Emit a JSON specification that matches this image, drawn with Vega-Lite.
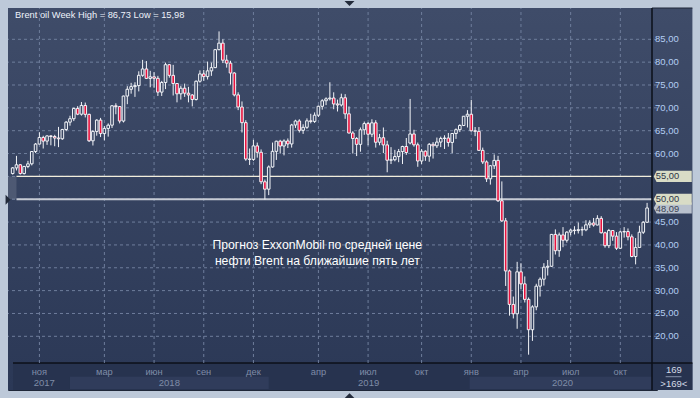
{
  "$schema": "https://vega.github.io/schema/vega-lite/v6.json",
  "width": 649,
  "height": 382,
  "autosize": {"type": "none"},
  "padding": {"left": 8, "top": 8, "right": 43, "bottom": 8},
  "background": "#bdc9d9",
  "config": {"view": {"stroke": "#1f2738", "strokeWidth": 1}, "font": "Liberation Sans"},
  "datasets": {
    "candles": [
      {"d":"2017-09-18","o":55.62,"h":57.05,"l":55.40,"c":56.86},
      {"d":"2017-09-25","o":56.86,"h":59.49,"l":56.30,"c":57.54},
      {"d":"2017-10-02","o":57.54,"h":57.70,"l":55.40,"c":55.62},
      {"d":"2017-10-09","o":55.62,"h":57.30,"l":55.40,"c":57.17},
      {"d":"2017-10-16","o":57.17,"h":58.40,"l":56.80,"c":57.75},
      {"d":"2017-10-23","o":57.75,"h":60.53,"l":57.40,"c":60.44},
      {"d":"2017-10-30","o":60.44,"h":62.30,"l":60.10,"c":62.07},
      {"d":"2017-11-06","o":62.07,"h":64.65,"l":62.00,"c":63.52},
      {"d":"2017-11-13","o":63.52,"h":63.90,"l":61.10,"c":62.72},
      {"d":"2017-11-20","o":62.72,"h":64.00,"l":61.90,"c":63.86},
      {"d":"2017-11-27","o":63.86,"h":64.00,"l":61.80,"c":63.73},
      {"d":"2017-12-04","o":63.73,"h":64.10,"l":61.60,"c":63.40},
      {"d":"2017-12-11","o":63.40,"h":65.83,"l":61.40,"c":63.23},
      {"d":"2017-12-18","o":63.23,"h":65.40,"l":63.00,"c":65.25},
      {"d":"2017-12-25","o":65.25,"h":67.10,"l":64.90,"c":66.87},
      {"d":"2018-01-01","o":66.87,"h":68.27,"l":66.10,"c":67.62},
      {"d":"2018-01-08","o":67.62,"h":70.05,"l":67.10,"c":69.87},
      {"d":"2018-01-15","o":69.87,"h":70.37,"l":68.40,"c":68.61},
      {"d":"2018-01-22","o":68.61,"h":71.28,"l":68.30,"c":70.52},
      {"d":"2018-01-29","o":70.52,"h":71.16,"l":67.90,"c":68.58},
      {"d":"2018-02-05","o":68.58,"h":68.70,"l":62.53,"c":62.79},
      {"d":"2018-02-12","o":62.79,"h":65.10,"l":61.76,"c":64.84},
      {"d":"2018-02-19","o":64.84,"h":67.50,"l":63.90,"c":67.31},
      {"d":"2018-02-26","o":67.31,"h":67.80,"l":63.60,"c":64.37},
      {"d":"2018-03-05","o":64.37,"h":66.00,"l":62.90,"c":65.49},
      {"d":"2018-03-12","o":65.49,"h":66.60,"l":63.70,"c":66.21},
      {"d":"2018-03-19","o":66.21,"h":70.58,"l":65.60,"c":70.45},
      {"d":"2018-03-26","o":70.45,"h":71.00,"l":68.60,"c":70.27},
      {"d":"2018-04-02","o":70.27,"h":70.40,"l":66.60,"c":67.11},
      {"d":"2018-04-09","o":67.11,"h":72.67,"l":66.80,"c":72.58},
      {"d":"2018-04-16","o":72.58,"h":74.75,"l":70.80,"c":74.06},
      {"d":"2018-04-23","o":74.06,"h":75.47,"l":73.10,"c":74.64},
      {"d":"2018-04-30","o":74.64,"h":75.60,"l":72.40,"c":74.87},
      {"d":"2018-05-07","o":74.87,"h":78.00,"l":73.60,"c":77.12},
      {"d":"2018-05-14","o":77.12,"h":80.50,"l":76.80,"c":78.51},
      {"d":"2018-05-21","o":78.51,"h":80.24,"l":76.30,"c":76.44},
      {"d":"2018-05-28","o":76.44,"h":78.10,"l":74.50,"c":76.79},
      {"d":"2018-06-04","o":76.79,"h":77.80,"l":74.40,"c":76.46},
      {"d":"2018-06-11","o":76.46,"h":77.00,"l":72.60,"c":73.44},
      {"d":"2018-06-18","o":73.44,"h":75.90,"l":72.60,"c":75.55},
      {"d":"2018-06-25","o":75.55,"h":79.90,"l":74.10,"c":79.44},
      {"d":"2018-07-02","o":79.44,"h":79.60,"l":76.60,"c":77.11},
      {"d":"2018-07-09","o":77.11,"h":79.40,"l":72.70,"c":75.33},
      {"d":"2018-07-16","o":75.33,"h":75.40,"l":71.20,"c":73.07},
      {"d":"2018-07-23","o":73.07,"h":74.80,"l":71.80,"c":74.29},
      {"d":"2018-07-30","o":74.29,"h":75.30,"l":72.40,"c":73.21},
      {"d":"2018-08-06","o":73.21,"h":74.60,"l":71.20,"c":72.81},
      {"d":"2018-08-13","o":72.81,"h":73.00,"l":70.32,"c":71.83},
      {"d":"2018-08-20","o":71.83,"h":76.00,"l":71.60,"c":75.82},
      {"d":"2018-08-27","o":75.82,"h":78.20,"l":75.50,"c":77.42},
      {"d":"2018-09-03","o":77.42,"h":78.30,"l":75.90,"c":76.83},
      {"d":"2018-09-10","o":76.83,"h":80.13,"l":76.20,"c":78.09},
      {"d":"2018-09-17","o":78.09,"h":79.90,"l":77.00,"c":78.80},
      {"d":"2018-09-24","o":78.80,"h":82.87,"l":78.70,"c":82.73},
      {"d":"2018-10-01","o":82.73,"h":86.73,"l":82.60,"c":84.16},
      {"d":"2018-10-08","o":84.16,"h":85.00,"l":79.80,"c":80.43},
      {"d":"2018-10-15","o":80.43,"h":81.60,"l":78.80,"c":79.78},
      {"d":"2018-10-22","o":79.78,"h":80.30,"l":75.10,"c":77.62},
      {"d":"2018-10-29","o":77.62,"h":77.80,"l":72.50,"c":72.83},
      {"d":"2018-11-05","o":72.83,"h":73.40,"l":69.50,"c":70.18},
      {"d":"2018-11-12","o":70.18,"h":71.40,"l":64.60,"c":66.76},
      {"d":"2018-11-19","o":66.76,"h":67.30,"l":58.41,"c":58.80},
      {"d":"2018-11-26","o":58.80,"h":61.10,"l":57.50,"c":58.71},
      {"d":"2018-12-03","o":58.71,"h":63.00,"l":58.40,"c":61.67},
      {"d":"2018-12-10","o":61.67,"h":62.40,"l":59.10,"c":60.28},
      {"d":"2018-12-17","o":60.28,"h":60.90,"l":53.30,"c":53.82},
      {"d":"2018-12-24","o":53.82,"h":54.30,"l":49.93,"c":52.20},
      {"d":"2018-12-31","o":52.20,"h":57.40,"l":50.90,"c":57.06},
      {"d":"2019-01-07","o":57.06,"h":62.40,"l":56.90,"c":60.48},
      {"d":"2019-01-14","o":60.48,"h":62.80,"l":58.60,"c":62.70},
      {"d":"2019-01-21","o":62.70,"h":63.00,"l":60.00,"c":61.64},
      {"d":"2019-01-28","o":61.64,"h":63.10,"l":59.60,"c":62.75},
      {"d":"2019-02-04","o":62.75,"h":63.30,"l":61.20,"c":62.10},
      {"d":"2019-02-11","o":62.10,"h":66.50,"l":61.30,"c":66.25},
      {"d":"2019-02-18","o":66.25,"h":67.40,"l":65.60,"c":67.12},
      {"d":"2019-02-25","o":67.12,"h":67.50,"l":64.60,"c":65.07},
      {"d":"2019-03-04","o":65.07,"h":66.40,"l":64.30,"c":65.74},
      {"d":"2019-03-11","o":65.74,"h":67.70,"l":65.40,"c":67.16},
      {"d":"2019-03-18","o":67.16,"h":68.70,"l":66.60,"c":67.03},
      {"d":"2019-03-25","o":67.03,"h":69.00,"l":66.70,"c":68.39},
      {"d":"2019-04-01","o":68.39,"h":70.50,"l":68.00,"c":70.34},
      {"d":"2019-04-08","o":70.34,"h":71.90,"l":69.60,"c":71.55},
      {"d":"2019-04-15","o":71.55,"h":72.30,"l":70.60,"c":71.97},
      {"d":"2019-04-22","o":71.97,"h":75.60,"l":71.60,"c":72.15},
      {"d":"2019-04-29","o":72.15,"h":73.40,"l":69.70,"c":70.85},
      {"d":"2019-05-06","o":70.85,"h":71.80,"l":69.20,"c":70.62},
      {"d":"2019-05-13","o":70.62,"h":73.10,"l":70.30,"c":72.21},
      {"d":"2019-05-20","o":72.21,"h":73.00,"l":67.60,"c":68.69},
      {"d":"2019-05-27","o":68.69,"h":70.30,"l":64.40,"c":64.49},
      {"d":"2019-06-03","o":64.49,"h":64.90,"l":60.00,"c":63.29},
      {"d":"2019-06-10","o":63.29,"h":63.60,"l":59.45,"c":62.01},
      {"d":"2019-06-17","o":62.01,"h":65.70,"l":60.40,"c":65.20},
      {"d":"2019-06-24","o":65.20,"h":67.00,"l":64.10,"c":66.55},
      {"d":"2019-07-01","o":66.55,"h":66.90,"l":61.80,"c":64.23},
      {"d":"2019-07-08","o":64.23,"h":67.50,"l":63.60,"c":66.72},
      {"d":"2019-07-15","o":66.72,"h":67.30,"l":61.30,"c":62.47},
      {"d":"2019-07-22","o":62.47,"h":64.30,"l":61.80,"c":63.46},
      {"d":"2019-07-29","o":63.46,"h":65.70,"l":60.10,"c":61.89},
      {"d":"2019-08-05","o":61.89,"h":62.80,"l":55.90,"c":58.53},
      {"d":"2019-08-12","o":58.53,"h":61.40,"l":57.70,"c":58.64},
      {"d":"2019-08-19","o":58.64,"h":60.80,"l":58.30,"c":59.34},
      {"d":"2019-08-26","o":59.34,"h":61.00,"l":58.10,"c":60.43},
      {"d":"2019-09-02","o":60.43,"h":61.70,"l":57.70,"c":61.54},
      {"d":"2019-09-09","o":61.54,"h":63.40,"l":59.70,"c":60.22},
      {"d":"2019-09-16","o":62.30,"h":71.95,"l":62.00,"c":64.28},
      {"d":"2019-09-23","o":64.28,"h":65.20,"l":61.50,"c":61.91},
      {"d":"2019-09-30","o":61.91,"h":62.40,"l":57.10,"c":58.37},
      {"d":"2019-10-07","o":58.37,"h":61.00,"l":57.70,"c":60.51},
      {"d":"2019-10-14","o":60.51,"h":60.70,"l":58.40,"c":59.42},
      {"d":"2019-10-21","o":59.42,"h":62.30,"l":58.20,"c":62.02},
      {"d":"2019-10-28","o":62.02,"h":62.50,"l":58.90,"c":61.69},
      {"d":"2019-11-04","o":61.69,"h":63.50,"l":61.20,"c":62.51},
      {"d":"2019-11-11","o":62.51,"h":63.70,"l":61.40,"c":63.30},
      {"d":"2019-11-18","o":63.30,"h":64.00,"l":61.00,"c":63.39},
      {"d":"2019-11-25","o":63.39,"h":64.50,"l":61.50,"c":62.43},
      {"d":"2019-12-02","o":62.43,"h":64.50,"l":60.10,"c":64.39},
      {"d":"2019-12-09","o":64.39,"h":65.50,"l":63.20,"c":65.22},
      {"d":"2019-12-16","o":65.22,"h":66.40,"l":64.70,"c":66.14},
      {"d":"2019-12-23","o":66.14,"h":68.20,"l":66.00,"c":68.16},
      {"d":"2019-12-30","o":68.16,"h":69.50,"l":65.70,"c":68.60},
      {"d":"2020-01-06","o":68.60,"h":71.75,"l":64.80,"c":64.98},
      {"d":"2020-01-13","o":64.98,"h":65.80,"l":63.80,"c":64.85},
      {"d":"2020-01-20","o":64.85,"h":65.80,"l":60.60,"c":60.69},
      {"d":"2020-01-27","o":60.69,"h":61.30,"l":57.70,"c":58.16},
      {"d":"2020-02-03","o":58.16,"h":58.50,"l":53.78,"c":54.47},
      {"d":"2020-02-10","o":54.47,"h":57.50,"l":53.20,"c":57.32},
      {"d":"2020-02-17","o":57.32,"h":59.80,"l":56.60,"c":58.50},
      {"d":"2020-02-24","o":58.50,"h":59.50,"l":49.40,"c":49.67},
      {"d":"2020-03-02","o":49.67,"h":53.90,"l":45.00,"c":45.27},
      {"d":"2020-03-09","o":45.27,"h":45.90,"l":31.02,"c":34.30},
      {"d":"2020-03-16","o":34.30,"h":34.60,"l":24.52,"c":26.98},
      {"d":"2020-03-23","o":26.98,"h":28.70,"l":23.90,"c":24.93},
      {"d":"2020-03-30","o":24.93,"h":36.30,"l":21.65,"c":34.11},
      {"d":"2020-04-06","o":34.11,"h":36.00,"l":30.40,"c":31.48},
      {"d":"2020-04-13","o":31.48,"h":33.10,"l":27.40,"c":28.08},
      {"d":"2020-04-20","o":28.08,"h":28.50,"l":15.98,"c":21.44},
      {"d":"2020-04-27","o":21.44,"h":26.80,"l":19.00,"c":26.44},
      {"d":"2020-05-04","o":26.44,"h":31.50,"l":25.70,"c":30.97},
      {"d":"2020-05-11","o":30.97,"h":32.90,"l":28.70,"c":32.50},
      {"d":"2020-05-18","o":32.50,"h":36.00,"l":31.10,"c":35.13},
      {"d":"2020-05-25","o":35.13,"h":36.70,"l":33.30,"c":35.33},
      {"d":"2020-06-01","o":35.33,"h":42.40,"l":35.20,"c":42.30},
      {"d":"2020-06-08","o":42.30,"h":43.40,"l":37.90,"c":38.73},
      {"d":"2020-06-15","o":38.73,"h":42.70,"l":37.40,"c":42.19},
      {"d":"2020-06-22","o":42.19,"h":43.90,"l":39.50,"c":41.02},
      {"d":"2020-06-29","o":41.02,"h":43.00,"l":40.50,"c":42.80},
      {"d":"2020-07-06","o":42.80,"h":43.50,"l":42.10,"c":43.24},
      {"d":"2020-07-13","o":43.24,"h":44.10,"l":42.30,"c":43.14},
      {"d":"2020-07-20","o":43.14,"h":44.90,"l":42.50,"c":43.34},
      {"d":"2020-07-27","o":43.34,"h":44.00,"l":42.00,"c":43.30},
      {"d":"2020-08-03","o":43.30,"h":45.40,"l":43.00,"c":44.40},
      {"d":"2020-08-10","o":44.40,"h":45.40,"l":43.70,"c":44.80},
      {"d":"2020-08-17","o":44.80,"h":45.90,"l":44.00,"c":44.35},
      {"d":"2020-08-24","o":44.35,"h":46.50,"l":44.30,"c":45.81},
      {"d":"2020-08-31","o":45.81,"h":46.30,"l":42.50,"c":42.66},
      {"d":"2020-09-07","o":42.66,"h":42.90,"l":39.40,"c":39.83},
      {"d":"2020-09-14","o":39.83,"h":43.50,"l":39.30,"c":43.15},
      {"d":"2020-09-21","o":43.15,"h":43.20,"l":40.90,"c":41.92},
      {"d":"2020-09-28","o":41.92,"h":42.80,"l":38.90,"c":39.27},
      {"d":"2020-10-05","o":39.27,"h":43.10,"l":39.10,"c":42.85},
      {"d":"2020-10-12","o":42.85,"h":43.90,"l":41.60,"c":42.93},
      {"d":"2020-10-19","o":42.93,"h":43.60,"l":41.00,"c":41.77},
      {"d":"2020-10-26","o":41.77,"h":42.30,"l":37.30,"c":37.46},
      {"d":"2020-11-02","o":37.46,"h":41.50,"l":35.74,"c":39.45},
      {"d":"2020-11-09","o":39.45,"h":44.20,"l":39.40,"c":42.78},
      {"d":"2020-11-16","o":42.78,"h":45.20,"l":42.40,"c":44.96},
      {"d":"2020-11-23","o":44.96,"h":49.20,"l":44.80,"c":48.09}
    ],
    "months": [
      {"d":"2017-11-06","m":"ноя"},{"d":"2018-03-05","m":"мар"},{"d":"2018-06-04","m":"июн"},
      {"d":"2018-09-03","m":"сен"},{"d":"2018-12-03","m":"дек"},{"d":"2019-04-01","m":"апр"},
      {"d":"2019-07-01","m":"июл"},{"d":"2019-10-07","m":"окт"},{"d":"2020-01-06","m":"янв"},
      {"d":"2020-04-06","m":"апр"},{"d":"2020-07-06","m":"июл"},{"d":"2020-10-05","m":"окт"}
    ],
    "years": [
      {"y":"2017","s":"2017-09-18","e":"2018-01-01","m":"2017-11-15"},
      {"y":"2018","s":"2018-01-01","e":"2018-12-31","m":"2018-07-02"},
      {"y":"2019","s":"2018-12-31","e":"2020-01-03","m":"2019-07-02"},
      {"y":"2020","s":"2020-01-03","e":"2020-12-02","m":"2020-06-21"}
    ],
    "grid": [
      {"v":20,"t":"20,00"},{"v":25,"t":"25,00"},{"v":30,"t":"30,00"},{"v":35,"t":"35,00"},
      {"v":40,"t":"40,00"},{"v":45,"t":"45,00"},{"v":50,"t":"50,00"},{"v":55,"t":"55,00"},
      {"v":60,"t":"60,00"},{"v":65,"t":"65,00"},{"v":70,"t":"70,00"},{"v":75,"t":"75,00"},
      {"v":80,"t":"80,00"},{"v":85,"t":"85,00"}
    ],
    "tags": [
      {"p":55,"t":"55,00","k":"lvl"},
      {"p":50,"t":"50,00","k":"lvl"},
      {"p":48.09,"t":"48,09","k":"last"}
    ]
  },
  "layer": [
    {
      "data": {"values": [{}]},
      "mark": {"type": "rect", "color": {"gradient": "linear", "x1": 0, "y1": 0, "x2": 0, "y2": 1, "stops": [{"offset": 0, "color": "#3f4c69"}, {"offset": 1, "color": "#2b3856"}]}},
      "encoding": {}
    },
    {
      "data": {"values": [{}]},
      "mark": {"type": "rect", "color": {"gradient": "linear", "x1": 0, "y1": 0, "x2": 0, "y2": 1, "stops": [{"offset": 0, "color": "#3f4c69"}, {"offset": 1, "color": "#2b3856"}]}},
      "encoding": {
        "x": {"datum": {"year": 2020, "month": 12, "date": 2, "utc": true}, "type": "temporal", "axis": null},
        "x2": {"datum": {"year": 2021, "month": 2, "date": 14, "utc": true}}
      }
    },
    {
      "data": {"values": [{}]},
      "mark": {"type": "rect", "color": "#27334f"},
      "encoding": {
        "x": {"datum": {"year": 2017, "month": 9, "date": 18, "hours": 15, "utc": true}, "type": "temporal", "axis": null},
        "x2": {"datum": {"year": 2021, "month": 2, "date": 14, "utc": true}},
        "y": {"datum": 14.16, "type": "quantitative", "axis": null},
        "y2": {"datum": 8.25}
      }
    },
    {
      "data": {"name": "years"},
      "transform": [{"filter": "datum.y == '2018' || datum.y == '2020'"}],
      "mark": {"type": "rect", "color": "#303c5b"},
      "encoding": {
        "x": {"field": "s", "type": "temporal", "axis": null},
        "x2": {"field": "e"},
        "y": {"datum": 11.16, "type": "quantitative", "axis": null},
        "y2": {"datum": 8.47}
      }
    },
    {
      "data": {"values": [{}]},
      "mark": {"type": "rule", "color": "#0c1018", "strokeWidth": 1.5},
      "encoding": {
        "x": {"datum": {"year": 2017, "month": 9, "date": 18, "hours": 15, "utc": true}, "type": "temporal", "axis": null},
        "x2": {"datum": {"year": 2021, "month": 2, "date": 14, "utc": true}},
        "y": {"datum": 14.16, "type": "quantitative", "axis": null}
      }
    },
    {
      "data": {"values": [{}]},
      "mark": {"type": "rule", "color": "#1f2738", "strokeWidth": 1},
      "encoding": {
        "x": {"datum": {"year": 2020, "month": 12, "date": 2, "utc": true}, "type": "temporal", "axis": null},
        "x2": {"datum": {"year": 2021, "month": 2, "date": 14, "utc": true}},
        "y": {"datum": 91.85, "type": "quantitative", "axis": null}
      }
    },
    {
      "data": {"name": "grid"},
      "mark": {"type": "rule", "color": "#6f7e9c", "strokeWidth": 1, "strokeDash": [3, 3]},
      "encoding": {
        "y": {"field": "v", "type": "quantitative", "axis": null}
      }
    },
    {
      "data": {"name": "months"},
      "mark": {"type": "rule", "color": "#6f7e9c", "strokeWidth": 1, "strokeDash": [3, 3]},
      "encoding": {
        "x": {"field": "d", "type": "temporal", "axis": null},
        "y": {"datum": 14.16, "type": "quantitative", "axis": null},
        "y2": {"datum": 91.85}
      }
    },
    {
      "data": {"values": [{}]},
      "mark": {"type": "rect", "color": "#ffffff", "opacity": 0.12},
      "encoding": {
        "x": {"datum": {"year": 2017, "month": 9, "date": 25, "utc": true}, "type": "temporal", "axis": null},
        "y": {"datum": 50, "type": "quantitative", "axis": null},
        "y2": {"datum": 55}
      }
    },
    {
      "data": {"values": [{}]},
      "mark": {"type": "rule", "color": "#f2eedc", "strokeWidth": 1.2},
      "encoding": {
        "x": {"datum": {"year": 2017, "month": 9, "date": 25, "utc": true}, "type": "temporal", "axis": null},
        "x2": {"datum": {"year": 2020, "month": 12, "date": 2, "utc": true}},
        "y": {"datum": 55, "type": "quantitative", "axis": null}
      }
    },
    {
      "data": {"values": [{}]},
      "mark": {"type": "rule", "color": "#c5cad3", "strokeWidth": 2},
      "encoding": {
        "x": {"datum": {"year": 2017, "month": 9, "date": 25, "utc": true}, "type": "temporal", "axis": null},
        "x2": {"datum": {"year": 2020, "month": 12, "date": 2, "utc": true}},
        "y": {"datum": 50, "type": "quantitative", "axis": null}
      }
    },
    {
      "data": {"name": "candles"},
      "mark": {"type": "rule", "color": "#f2f4f8", "strokeWidth": 1, "clip": true},
      "encoding": {
        "x": {"field": "d", "type": "temporal", "axis": null,
              "scale": {"domain": [{"year": 2017, "month": 9, "date": 18, "hours": 15, "utc": true}, {"year": 2020, "month": 12, "date": 2, "utc": true}]}},
        "y": {"field": "l", "type": "quantitative", "axis": null,
              "scale": {"domain": [8.25, 91.85], "nice": false, "zero": false}},
        "y2": {"field": "h"}
      }
    },
    {
      "data": {"name": "candles"},
      "mark": {"type": "bar", "size": 2.6, "stroke": "#f2f4f8", "strokeWidth": 1, "clip": true},
      "encoding": {
        "x": {"field": "d", "type": "temporal", "axis": null},
        "y": {"field": "o", "type": "quantitative", "axis": null},
        "y2": {"field": "c"},
        "fill": {
          "condition": {"test": "datum.c < datum.o", "value": "#e8113d"},
          "field": "c", "type": "quantitative",
          "scale": {"domain": [8.25, 91.85], "range": ["#2b3856", "#3f4c69"]},
          "legend": null
        }
      }
    },
    {
      "data": {"values": [{}]},
      "mark": {"type": "rule", "color": "#0b0f18", "strokeWidth": 1.5},
      "encoding": {
        "x": {"datum": {"year": 2020, "month": 12, "date": 2, "utc": true}, "type": "temporal", "axis": null}
      }
    },
    {
      "data": {"name": "grid"},
      "transform": [{"filter": "datum.v != 50 && datum.v != 55"}],
      "mark": {"type": "text", "color": "#b3cdf2", "fontSize": 9.5, "align": "left", "baseline": "middle"},
      "encoding": {
        "x": {"datum": {"year": 2020, "month": 12, "date": 7, "hours": 12, "utc": true}, "type": "temporal", "axis": null},
        "y": {"field": "v", "type": "quantitative", "axis": null},
        "text": {"field": "t", "type": "nominal"}
      }
    },
    {
      "data": {"name": "months"},
      "mark": {"type": "text", "color": "#7f8ca7", "fontSize": 9.3, "align": "center", "baseline": "middle"},
      "encoding": {
        "x": {"field": "d", "type": "temporal", "axis": null},
        "y": {"datum": 12.19, "type": "quantitative", "axis": null},
        "text": {"field": "m", "type": "nominal"}
      }
    },
    {
      "data": {"name": "years"},
      "mark": {"type": "text", "color": "#7f8ca7", "fontSize": 9.5, "align": "center", "baseline": "middle"},
      "encoding": {
        "x": {"field": "m", "type": "temporal", "axis": null},
        "y": {"datum": 9.78, "type": "quantitative", "axis": null},
        "text": {"field": "y", "type": "nominal"}
      }
    },
    {
      "data": {"values": [{}]},
      "mark": {"type": "text", "color": "#eef2fa", "fontSize": 9.3, "align": "left", "baseline": "middle"},
      "encoding": {
        "x": {"datum": {"year": 2017, "month": 9, "date": 22, "hours": 12, "utc": true}, "type": "temporal", "axis": null},
        "y": {"datum": 90.3, "type": "quantitative", "axis": null},
        "text": {"value": "Brent oil Week High = 86,73 Low = 15,98"}
      }
    },
    {
      "data": {"values": [{}]},
      "mark": {"type": "text", "color": "#ffffff", "fontSize": 12.2, "align": "center", "baseline": "middle", "lineHeight": 16},
      "encoding": {
        "x": {"datum": {"year": 2019, "month": 3, "date": 30, "utc": true}, "type": "temporal", "axis": null},
        "y": {"datum": 40, "type": "quantitative", "axis": null},
        "text": {"value": ["Прогноз ExxonMobil по средней цене", "нефти Brent на ближайшие пять лет"]}
      }
    },
    {
      "data": {"name": "tags"},
      "transform": [{"filter": "datum.k == 'last'"}],
      "mark": {"type": "point", "filled": true, "size": 1444, "opacity": 1, "color": "#b9c1cd",
               "shape": "M-1,0L-0.85,-0.29L1,-0.29L1,0.29L-0.85,0.29Z"},
      "encoding": {
        "x": {"datum": {"year": 2021, "month": 1, "date": 9, "utc": true}, "type": "temporal", "axis": null},
        "y": {"field": "p", "type": "quantitative", "axis": null}
      }
    },
    {
      "data": {"name": "tags"},
      "transform": [{"filter": "datum.k == 'last'"}],
      "mark": {"type": "text", "color": "#3a4252", "fontSize": 9.3, "align": "left", "baseline": "middle", "dy": 1.5},
      "encoding": {
        "x": {"datum": {"year": 2020, "month": 12, "date": 9, "utc": true}, "type": "temporal", "axis": null},
        "y": {"field": "p", "type": "quantitative", "axis": null},
        "text": {"field": "t", "type": "nominal"}
      }
    },
    {
      "data": {"name": "tags"},
      "transform": [{"filter": "datum.k == 'lvl'"}],
      "mark": {"type": "point", "filled": true, "size": 1444, "opacity": 1, "color": "#d9dcc6",
               "shape": "M-1,0L-0.85,-0.29L1,-0.29L1,0.29L-0.85,0.29Z"},
      "encoding": {
        "x": {"datum": {"year": 2021, "month": 1, "date": 9, "utc": true}, "type": "temporal", "axis": null},
        "y": {"field": "p", "type": "quantitative", "axis": null}
      }
    },
    {
      "data": {"name": "tags"},
      "transform": [{"filter": "datum.k == 'lvl'"}],
      "mark": {"type": "text", "color": "#2e3546", "fontSize": 9.3, "align": "left", "baseline": "middle"},
      "encoding": {
        "x": {"datum": {"year": 2020, "month": 12, "date": 9, "utc": true}, "type": "temporal", "axis": null},
        "y": {"field": "p", "type": "quantitative", "axis": null},
        "text": {"field": "t", "type": "nominal"}
      }
    },
    {
      "data": {"values": [{}]},
      "mark": {"type": "text", "color": "#d4dae6", "fontSize": 9.5, "align": "center", "baseline": "middle"},
      "encoding": {
        "x": {"datum": {"year": 2021, "month": 1, "date": 11, "utc": true}, "type": "temporal", "axis": null},
        "y": {"datum": 12.6, "type": "quantitative", "axis": null},
        "text": {"value": "169"}
      }
    },
    {
      "data": {"values": [{}]},
      "mark": {"type": "rule", "color": "#8592aa", "strokeWidth": 1},
      "encoding": {
        "x": {"datum": {"year": 2020, "month": 12, "date": 27, "utc": true}, "type": "temporal", "axis": null},
        "x2": {"datum": {"year": 2021, "month": 1, "date": 25, "utc": true}},
        "y": {"datum": 11.16, "type": "quantitative", "axis": null}
      }
    },
    {
      "data": {"values": [{}]},
      "mark": {"type": "text", "color": "#d4dae6", "fontSize": 9.5, "align": "center", "baseline": "middle"},
      "encoding": {
        "x": {"datum": {"year": 2021, "month": 1, "date": 11, "utc": true}, "type": "temporal", "axis": null},
        "y": {"datum": 9.67, "type": "quantitative", "axis": null},
        "text": {"value": ">169<"}
      }
    },
    {
      "data": {"values": [{}]},
      "mark": {"type": "point", "filled": true, "size": 100, "opacity": 1, "color": "#232b3b", "shape": "M-1,-0.5L1,-0.5L0,0.5Z"},
      "encoding": {
        "x": {"datum": {"year": 2019, "month": 5, "date": 28, "utc": true}, "type": "temporal", "axis": null},
        "y": {"datum": 92.84, "type": "quantitative", "axis": null}
      }
    },
    {
      "data": {"values": [{}]},
      "mark": {"type": "point", "filled": true, "size": 100, "opacity": 1, "color": "#232b3b", "shape": "M-1,0.5L1,0.5L0,-0.5Z"},
      "encoding": {
        "x": {"datum": {"year": 2019, "month": 5, "date": 28, "utc": true}, "type": "temporal", "axis": null},
        "y": {"datum": 7.0, "type": "quantitative", "axis": null}
      }
    },
    {
      "data": {"values": [{}]},
      "mark": {"type": "point", "filled": true, "size": 100, "opacity": 1, "color": "#232b3b", "shape": "M-0.5,-1L0.5,0L-0.5,1Z"},
      "encoding": {
        "x": {"datum": {"year": 2017, "month": 9, "date": 9, "hours": 14, "utc": true}, "type": "temporal", "axis": null},
        "y": {"datum": 49.9, "type": "quantitative", "axis": null}
      }
    }
  ]
}
